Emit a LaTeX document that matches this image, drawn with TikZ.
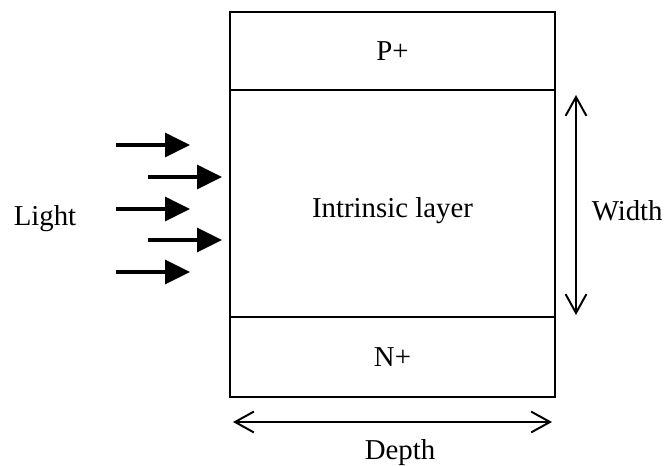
\documentclass[tikz,border=0pt]{standalone}
\usepackage{fontspec}
\setmainfont{Liberation Serif}
\usetikzlibrary{arrows.meta,positioning}

\begin{document}
\begin{tikzpicture}[
  layer/.style={draw, line width=1.4pt, minimum width=8.125cm, outer sep=0pt, inner sep=0pt, font=\fontsize{20.5}{24}\selectfont},
  lbl/.style={font=\fontsize{20.5}{24}\selectfont},
  dim/.style={{Straight Barb[length=0.47cm,width=0.52cm,line width=1.4pt]}-{Straight Barb[length=0.47cm,width=0.52cm,line width=1.4pt]}, line width=1.4pt},
  ray/.style={-{Triangle[length=0.625cm,width=0.6cm]}, line width=2.2pt},
]
\useasboundingbox (0,0) rectangle (16.675,11.625);

% device layers
\node[layer, minimum height=1.95cm] (player) at (9.8125,10.35) {P+};
\node[layer, minimum height=5.675cm, below=0pt of player] (intr) {};
\node[lbl] (intrlbl) at ([yshift=-0.18cm]intr.center) {Intrinsic layer};
\node[layer, minimum height=2cm, below=0pt of intr] (nlayer) {N+};

% incoming light
\foreach \y/\x [count=\i] in {8.0/2.9, 7.2/3.7, 6.4/2.9, 5.625/3.7, 4.825/2.9} {
  \coordinate (ls\i) at (\x,\y);
  \coordinate (le\i) at (\x+1.85,\y);
  \draw[ray] (ls\i) -- (le\i);
}
\node[lbl] (light) at (1.125,6.17) {Light};

% width of intrinsic layer
\coordinate (wtop) at ([xshift=0.525cm,yshift=-0.125cm]intr.north east);
\coordinate (wbot) at ([xshift=0.525cm,yshift=0.05cm]intr.south east);
\draw[dim] (wtop) -- (wbot);
\node[lbl] (width) at (15.68,6.35) {Width};

% depth
\coordinate (dl) at ([xshift=0.075cm,yshift=-0.625cm]nlayer.south west);
\coordinate (dr) at ([xshift=-0.075cm,yshift=-0.625cm]nlayer.south east);
\draw[dim] (dl) -- (dr);
\node[lbl] (depth) at (10.0,0.32) {Depth};

\end{tikzpicture}
\end{document}
